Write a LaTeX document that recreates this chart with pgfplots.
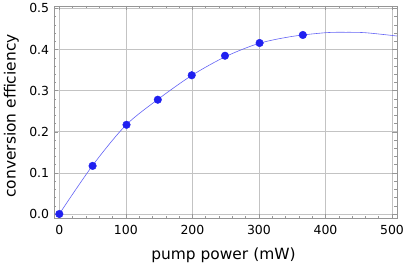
\documentclass[border=0pt]{standalone}
\usepackage{fontspec}
\setmainfont{DejaVu Sans}
\usepackage{pgfplots}
\pgfplotsset{compat=1.18}
\definecolor{dotblue}{RGB}{32,32,240}
\definecolor{lineblue}{RGB}{100,100,245}
\definecolor{framegray}{RGB}{150,150,150}
\definecolor{gridgray}{RGB}{195,195,195}
\begin{document}
\begin{tikzpicture}
\begin{axis}[
  scale only axis,
  width=343bp, height=212.3bp,
  xmin=-8, xmax=507.5,
  ymin=-0.0105, ymax=0.506,
  xtick={0,100,200,300,400,500},
  ytick={0,0.1,0.2,0.3,0.4,0.5},
  minor x tick num=4,
  minor y tick num=4,
  tick align=inside,
  major tick length=4.5bp,
  minor tick length=2.5bp,
  axis line style={framegray, line width=0.5pt},
  every tick/.style={framegray, line width=0.5pt},
  grid=major,
  major grid style={gridgray, line width=0.6pt},
  /pgf/number format/assume math mode=true,
  yticklabel style={/pgf/number format/fixed, /pgf/number format/fixed zerofill, /pgf/number format/precision=1, inner sep=0pt, anchor=east, xshift=-4.7bp},
  xticklabel style={inner sep=0pt, anchor=north, yshift=-7.2bp},
  ticklabel style={font=\fontsize{12.5}{14}\selectfont},
  every axis y label/.style={at={(axis description cs:-0.1122,0.482)}, rotate=90, anchor=base, font=\fontsize{15.5}{18}\selectfont},
  every axis x label/.style={at={(axis description cs:0.494,-0.196)}, anchor=base, font=\fontsize{15.5}{18}\selectfont},
  xlabel={pump power (mW)},
  ylabel={conversion efficiency},
  clip=true,
]
\addplot[lineblue, line width=0.6pt, smooth, no markers] coordinates {
(0,0) (50,0.118) (100,0.216) (150,0.281) (200,0.338) (250,0.383) (300,0.415) (350,0.432) (400,0.441) (430,0.442) (460,0.441) (507.5,0.433)
};
\addplot[only marks, mark=*, mark size=3.8bp, dotblue, mark options={draw=dotblue, fill=dotblue}] coordinates {
(0,0) (50,0.117) (101,0.217) (148,0.278) (199,0.3375) (249,0.385) (301,0.416) (366,0.4355)
};
\end{axis}
\pgfresetboundingbox
\path[use as bounding box] ([xshift=-54bp,yshift=-50.7bp]current axis.south west) rectangle ([xshift=10bp,yshift=6bp]current axis.north east);
\end{tikzpicture}
\end{document}
